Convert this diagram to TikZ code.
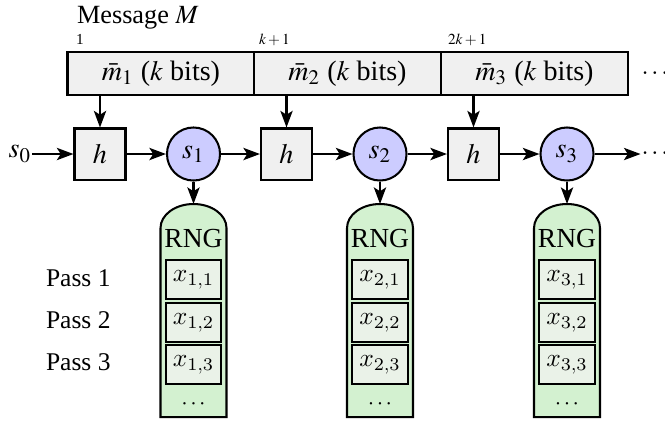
\documentclass[tikz,border=0pt]{standalone}
\usepackage{mathptmx}
\usepackage{fontspec}
\setmainfont{Liberation Serif}
\usetikzlibrary{positioning,arrows.meta}
\definecolor{barfill}{HTML}{F0F0F0}
\definecolor{sfill}{HTML}{CCCCFF}
\definecolor{rngfill}{HTML}{D3F1D0}
\definecolor{xfill}{HTML}{EAF2E8}
\DeclareMathAlphabet{\mathcmi}{OML}{cmm}{m}{it}
\DeclareMathAlphabet{\mathcmr}{OT1}{cmr}{m}{n}
\newcommand{\xval}[2]{$\mathcmi{x}_{\mathcmr{#1,#2}}$}

\begin{document}
\begin{tikzpicture}[x=0.392pt, y=-0.392pt, thick,
    arr/.style={-{Stealth[length=6.5pt,width=4.8pt,inset=1.5pt]}},
    segbox/.style={draw,fill=barfill,minimum width=73.3pt,minimum height=16.9pt,inner sep=0pt,font=\fontsize{11}{13}\selectfont},
    hbox/.style={draw,fill=barfill,minimum size=20pt,inner sep=0pt,font=\fontsize{11}{13}\selectfont},
    snode/.style={circle,draw,fill=sfill,minimum size=20.8pt,inner sep=0pt,font=\fontsize{11}{13}\selectfont},
    xbox/.style={draw,fill=xfill,minimum width=21.6pt,minimum height=15.3pt,inner sep=0pt},
    lbl/.style={inner sep=0pt}]
    \useasboundingbox (0,0) rectangle (665,426);

    \node[lbl,anchor=base west,font=\fontsize{10.3}{12}\selectfont] (msg) at (76,23) {Message $M$};
    \node[lbl,anchor=base west,font=\fontsize{6}{7}\selectfont] (idx1) at (75,44) {1};
    \node[lbl,anchor=base west,font=\fontsize{6}{7}\selectfont] (idx2) at (258,44) {$k+1$};
    \node[lbl,anchor=base west,font=\fontsize{6}{7}\selectfont] (idx3) at (447,44) {$2k+1$};

    \node[lbl,font=\fontsize{11}{13}\selectfont] (s0) at (20,154) {$s_0$};
    \node[lbl] (sdots) at (655,154) {$\cdots$};
    \node[lbl] (mdots) at (655,74) {$\cdots$};

    \foreach \i/\cx/\mx/\hx in {1/193.5/161/100, 2/380/347.5/286.5, 3/567/534.5/473.5} {
      \node[segbox] (m\i) at (\mx,73.5) {$\bar{m}_{\i}$ ($k$ bits)};
      \node[hbox] (h\i) at (\hx,154) {$h$};
      \node[snode] (s\i) at (\cx,154) {$s_{\i}$};
      % RNG column
      \draw[fill=rngfill] ({\cx-33},417) -- ({\cx-33},228)
        arc[start angle=180,end angle=360,x radius=33,y radius=24] -- ({\cx+33},417) -- cycle;
      \coordinate (r\i) at (\cx,204);
      \node[lbl,font=\fontsize{10.8}{12}\selectfont] (rng\i) at (\cx,238) {RNG};
      \foreach \j/\y in {1/279.5,2/322.5,3/364.5}
        \node[xbox] (x\i\j) at (\cx,\y) {\xval{\i}{\j}};
      \node[lbl,font=\small] (xdots\i) at (\cx,404) {$\cdots$};
      \draw[arr] (m\i.south -| h\i) -- (h\i);
      \draw[arr] (s\i) -- (r\i);
    }

    \path[arr]
      (s0) edge (h1)
      (h1) edge (s1)
      (s1) edge (h2)
      (h2) edge (s2)
      (s2) edge (h3)
      (h3) edge (s3)
      (s3) edge (sdots);

    \foreach \j/\y in {1/278,2/320,3/362}
      \node[lbl,anchor=west] (pass\j) at (45,\y) {Pass \j};
\end{tikzpicture}
\end{document}
